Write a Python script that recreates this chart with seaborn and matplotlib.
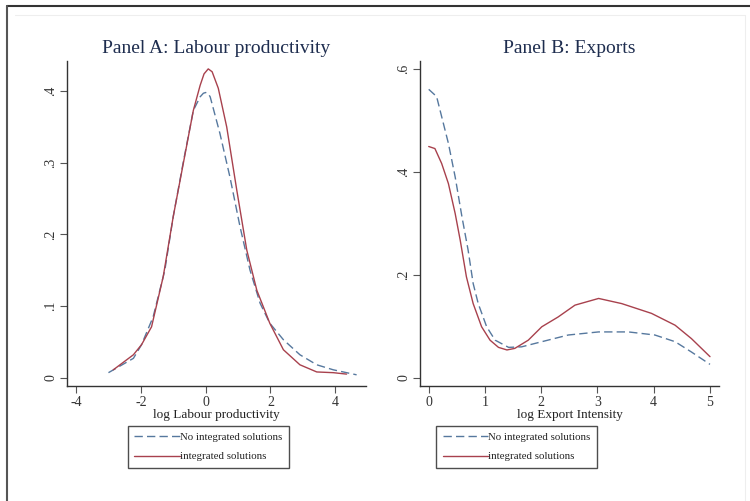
import pandas as pd
import matplotlib.pyplot as plt
import seaborn as sns
from matplotlib.lines import Line2D

# Panel A: log labour productivity densities
a_no_x = [-3.0, -2.23, -1.98, -1.62, -1.26, -1.0, -0.69, -0.38, -0.17, -0.07, 0.0, 0.07, 0.14,
          0.44, 0.75, 1.06, 1.37, 1.68, 1.98, 2.40, 2.91, 3.43, 3.94, 4.66]
a_no_y = [0.007, 0.027, 0.046, 0.085, 0.150, 0.225, 0.301, 0.373, 0.392, 0.397, 0.398, 0.397, 0.392,
          0.341, 0.280, 0.211, 0.150, 0.104, 0.076, 0.053, 0.032, 0.018, 0.011, 0.004]
a_int_x = [-2.85, -2.23, -1.98, -1.67, -1.31, -1.0, -0.69, -0.38, -0.17, -0.05, 0.08, 0.2, 0.39,
           0.65, 0.96, 1.27, 1.58, 1.98, 2.40, 2.91, 3.43, 3.94, 4.35]
a_int_y = [0.011, 0.032, 0.046, 0.071, 0.141, 0.225, 0.299, 0.373, 0.408, 0.424, 0.431, 0.427, 0.404,
           0.350, 0.262, 0.178, 0.122, 0.076, 0.039, 0.018, 0.008, 0.007, 0.005]

# Panel B: log export intensity densities
b_no_x = [0.0, 0.14, 0.23, 0.35, 0.47, 0.59, 0.70, 0.79, 0.88, 1.03, 1.18, 1.42,
          1.65, 2.01, 2.48, 3.02, 3.55, 4.02, 4.38, 4.67, 5.0]
b_no_y = [0.560, 0.546, 0.507, 0.455, 0.390, 0.313, 0.248, 0.183, 0.144, 0.099, 0.073,
          0.059, 0.060, 0.070, 0.083, 0.089, 0.089, 0.083, 0.070, 0.050, 0.026]
b_int_x = [0.0, 0.11, 0.23, 0.35, 0.47, 0.56, 0.67, 0.79, 0.94, 1.09, 1.24, 1.39, 1.53,
           1.77, 2.01, 2.30, 2.60, 3.02, 3.43, 3.96, 4.38, 4.67, 5.0]
b_int_y = [0.449, 0.445, 0.416, 0.377, 0.319, 0.267, 0.196, 0.144, 0.099, 0.073, 0.059,
           0.054, 0.057, 0.073, 0.099, 0.118, 0.141, 0.154, 0.144, 0.125, 0.102, 0.076, 0.041]

labels = ['No integrated solutions', 'integrated solutions']
blue = '#56789e'
red = '#a8414d'
navy = '#1e2d4f'

sns.set_style('ticks')
plt.rcParams['font.family'] = ['Liberation Serif', 'DejaVu Serif']

fig = plt.figure(figsize=(7.5, 5.01), dpi=100)
W, H = 750, 501


def add_axes(left, top, right, bottom):
    return fig.add_axes([left / W, 1 - bottom / H, (right - left) / W, (bottom - top) / H])


axA = add_axes(67, 61, 366, 386)
axB = add_axes(420, 61, 719, 386)

panels = [
    (axA, a_no_x, a_no_y, a_int_x, a_int_y, 'Panel A: Labour productivity',
     'log Labour productivity', (-4.28, 4.95), (-0.0116, 0.442),
     [-4, -2, 0, 2, 4], ['-4', '-2', '0', '2', '4'],
     [0, 0.1, 0.2, 0.3, 0.4], ['0', '.1', '.2', '.3', '.4'], 0.204),
    (axB, b_no_x, b_no_y, b_int_x, b_int_y, 'Panel B: Exports',
     'log Export Intensity', (-0.155, 5.16), (-0.016, 0.615),
     [0, 1, 2, 3, 4, 5], ['0', '1', '2', '3', '4', '5'],
     [0, 0.2, 0.4, 0.6], ['0', '.2', '.4', '.6'], 0.054),
]

for ax, nx, ny, ix, iy, title, xlabel, xlim, ylim, xt, xtl, yt, ytl, legx in panels:
    sns.lineplot(x=nx, y=ny, ax=ax, color=blue, lw=1.0, sort=False)
    ax.lines[-1].set_dashes([6, 3])
    sns.lineplot(x=ix, y=iy, ax=ax, color=red, lw=1.0, sort=False)
    ax.set_xlim(*xlim)
    ax.set_ylim(*ylim)
    ax.set_xticks(xt)
    ax.set_xticklabels(xtl)
    ax.set_yticks(yt)
    ax.set_yticklabels(ytl, rotation=90, va='center')
    for s in ['top', 'right']:
        ax.spines[s].set_visible(False)
    for s in ['left', 'bottom']:
        ax.spines[s].set_color('#333333')
        ax.spines[s].set_linewidth(1.0)
    ax.tick_params(axis='both', length=5, width=0.8, color='#555555',
                   labelsize=10, labelcolor='#333333', pad=2)
    ax.set_title(title, fontsize=14, color=navy, pad=6)
    ax.set_xlabel(xlabel, fontsize=9.5, color='#222222', labelpad=0)
    ax.set_ylabel('')
    handles = [Line2D([], [], color=blue, lw=1.0, dashes=[6, 3]),
               Line2D([], [], color=red, lw=1.0)]
    leg = ax.legend(handles, labels, loc='upper left', bbox_to_anchor=(legx, -0.123),
                    frameon=True, fancybox=False, edgecolor='#222222', fontsize=7.8,
                    handlelength=4.2, handletextpad=0.0, borderpad=0.6,
                    labelspacing=0.9, borderaxespad=0)
    leg.get_frame().set_linewidth(1.0)
    for t in leg.get_texts():
        t.set_color('#222222')

# outer frame lines as in the source image
fig.add_artist(Line2D([7 / W, 750 / W], [1 - 6 / H, 1 - 6 / H], color='#333333', lw=1.5))
fig.add_artist(Line2D([7 / W, 7 / W], [0, 1 - 6 / H], color='#555555', lw=1.5))
fig.add_artist(Line2D([15 / W, 745 / W], [1 - 15 / H, 1 - 15 / H], color='#eeeeee', lw=0.8))
fig.add_artist(Line2D([745 / W, 745 / W], [0, 1 - 15 / H], color='#eeeeee', lw=0.8))

fig.savefig('out.png', dpi=100, facecolor='white')
